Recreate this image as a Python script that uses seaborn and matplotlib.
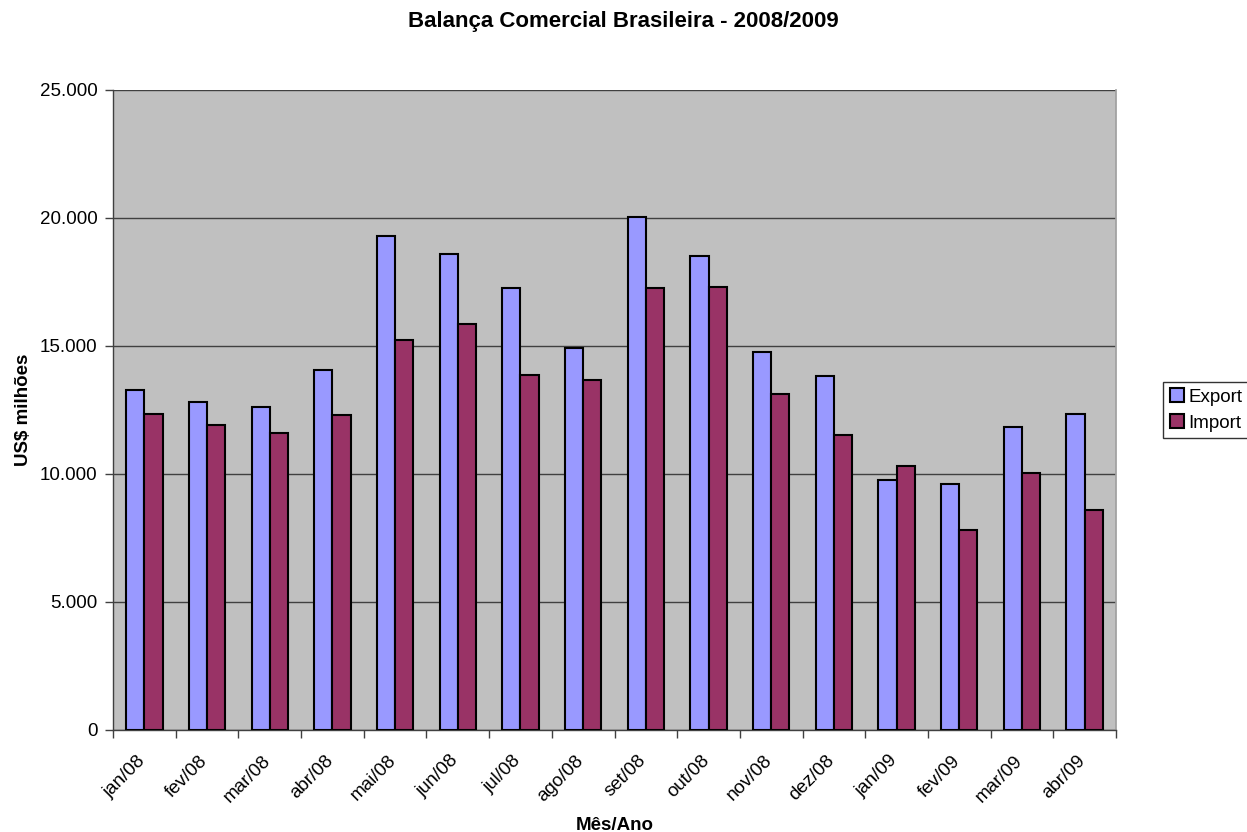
import numpy as np
import pandas as pd
import matplotlib
matplotlib.use("Agg")
import matplotlib.pyplot as plt
from matplotlib.ticker import FuncFormatter, FixedLocator
from matplotlib.transforms import ScaledTranslation
import seaborn as sns

months = ["jan/08", "fev/08", "mar/08", "abr/08", "mai/08", "jun/08", "jul/08", "ago/08",
          "set/08", "out/08", "nov/08", "dez/08", "jan/09", "fev/09", "mar/09", "abr/09"]
exports = [13280, 12810, 12630, 14060, 19310, 18590, 17280, 14930,
           20040, 18520, 14750, 13810, 9770, 9600, 11820, 12330]
imports = [12330, 11910, 11600, 12300, 15220, 15870, 13850, 13660,
           17270, 17300, 13140, 11510, 10300, 7830, 10040, 8590]
series = ["Export", "Import"]
colors = ["#9999FF", "#993366"]

df = pd.DataFrame({
    "Mês/Ano": months * 2,
    "valor": exports + imports,
    "serie": [series[0]] * len(months) + [series[1]] * len(months),
})

sns.set_theme(style="white")
plt.rcParams["font.family"] = ["Liberation Sans", "DejaVu Sans"]
plt.rcParams["text.color"] = "black"
plt.rcParams["axes.labelcolor"] = "black"
plt.rcParams["xtick.color"] = "black"
plt.rcParams["ytick.color"] = "black"

fig = plt.figure(figsize=(12.47, 8.32), dpi=100)
ax = fig.add_axes([113 / 1247, 102 / 832, (1116 - 113) / 1247, (730 - 90) / 832])
ax.set_facecolor("#C0C0C0")

sns.barplot(data=df, x="Mês/Ano", y="valor", hue="serie", palette=colors,
            width=0.58, gap=0, edgecolor="black", linewidth=1.5,
            saturation=1, ax=ax, zorder=3)

ax.set_xlim(-0.5, len(months) - 0.5)
ax.set_ylim(0, 25000)
ax.set_yticks(np.arange(0, 25001, 5000))
ax.yaxis.set_major_formatter(FuncFormatter(lambda v, p: f"{int(v):,}".replace(",", ".")))
ax.grid(axis="y", color="#404040", linewidth=1, zorder=1)
ax.set_axisbelow(True)

# category ticks sit between groups, labels at group centres
ax.xaxis.set_minor_locator(FixedLocator(np.arange(-0.5, len(months), 1.0)))
ax.tick_params(axis="x", which="major", length=0, pad=16, labelsize=13.5, labelcolor="black")
ax.tick_params(axis="x", which="minor", length=6, width=1, color="#404040", direction="out", bottom=True)
ax.tick_params(axis="y", length=6, width=1, color="#404040", direction="out", left=True,
               labelsize=13.5, labelcolor="black", pad=5)
shift = ScaledTranslation(-8 / 100, 0, fig.dpi_scale_trans)
for lbl in ax.get_xticklabels():
    lbl.set_rotation(45)
    lbl.set_ha("right")
    lbl.set_rotation_mode("anchor")
    lbl.set_transform(lbl.get_transform() + shift)

for side in ["left", "bottom"]:
    ax.spines[side].set_color("#404040")
    ax.spines[side].set_linewidth(1)
ax.spines["right"].set_color("#A0A0A0")
ax.spines["top"].set_visible(False)

ax.set_ylabel("US$ milhões", fontsize=13.5, fontweight="bold")
ax.yaxis.set_label_coords(-0.081, 0.5)
ax.set_xlabel("Mês/Ano", fontsize=13.5, fontweight="bold")
ax.xaxis.set_label_coords(0.5, -0.136)
fig.suptitle("Balança Comercial Brasileira - 2008/2009", fontsize=16, fontweight="bold", y=0.987)

handles, labels = ax.get_legend_handles_labels()
leg = ax.legend(handles, labels, loc="center left", bbox_to_anchor=(1.047, 0.50),
                frameon=True, fancybox=False, fontsize=13.5, handlelength=0.75,
                handleheight=0.75, handletextpad=0.25, borderpad=0.35, labelspacing=0.45,
                borderaxespad=0)
leg.get_frame().set_edgecolor("black")
leg.get_frame().set_linewidth(1)
leg.set_title(None)

fig.savefig("out.png", dpi=100, facecolor="white")
